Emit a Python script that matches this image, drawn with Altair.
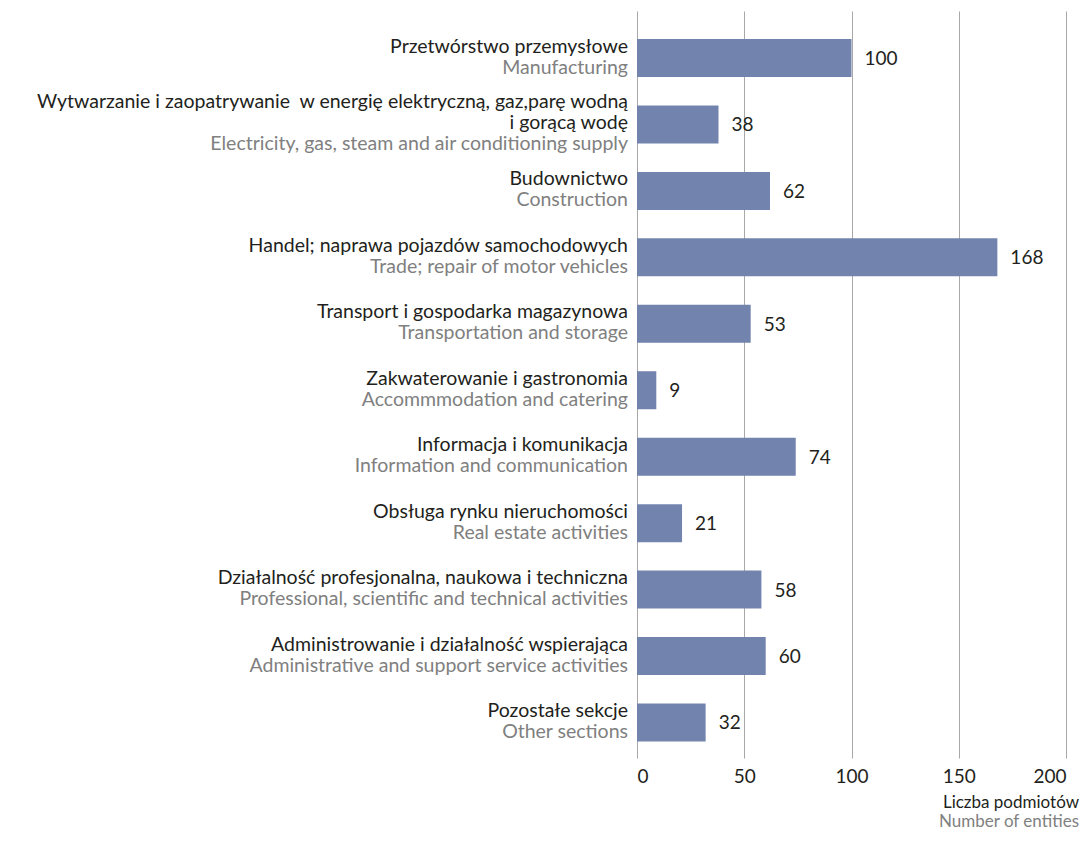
import altair as alt
import pandas as pd

pl_lines = [
    ["Przetwórstwo przemysłowe"],
    ["Wytwarzanie i zaopatrywanie\u00a0 w energię elektryczną, gaz,parę wodną", "i gorącą wodę"],
    ["Budownictwo"],
    ["Handel; naprawa pojazdów samochodowych"],
    ["Transport i gospodarka magazynowa"],
    ["Zakwaterowanie i gastronomia"],
    ["Informacja i komunikacja"],
    ["Obsługa rynku nieruchomości"],
    ["Działalność profesjonalna, naukowa i techniczna"],
    ["Administrowanie i działalność wspierająca"],
    ["Pozostałe sekcje"],
]
en_labels = [
    "Manufacturing",
    "Electricity, gas, steam and air conditioning supply",
    "Construction",
    "Trade; repair of motor vehicles",
    "Transportation and storage",
    "Accommmodation and catering",
    "Information and communication",
    "Real estate activities",
    "Professional, scientific and technical activities",
    "Administrative and support service activities",
    "Other sections",
]
values = [100, 38, 62, 168, 53, 9, 74, 21, 58, 60, 32]
tick_values = [0, 50, 100, 150, 200]
axis_title_pl = "Liczba podmiotów"
axis_title_en = "Number of entities"

keys = [p[0] for p in pl_lines]
bars_df = pd.DataFrame({"key": keys, "value": values})

rows = []
for key, pl, en in zip(keys, pl_lines, en_labels):
    lines = [(t, "pl") for t in pl] + [(en, "en")]
    n = len(lines)
    for k, (t, lang) in enumerate(lines):
        rows.append({"key": key, "text": t, "lang": lang, "pos": 2 * k - (n - 1)})
labels_df = pd.DataFrame(rows)

FONT = "Lato"
BLACK = "#231f20"
GRAY = "#808080"

yenc = alt.Y(
    "key:N",
    sort=keys,
    axis=None,
    scale=alt.Scale(paddingInner=0.428, paddingOuter=0.335, align=0.629),
)

bars = alt.Chart(bars_df).mark_bar(color="#7283ae").encode(
    x=alt.X(
        "value:Q",
        scale=alt.Scale(domain=[0, 200], nice=False),
        axis=alt.Axis(
            values=tick_values,
            grid=True,
            gridColor="#a8a8a8",
            gridWidth=1,
            domain=False,
            ticks=False,
            labelFont=FONT,
            labelFontSize=19,
            labelColor=BLACK,
            labelPadding=9,
            title=None,
        ),
    ),
    y=yenc,
)

value_labels = alt.Chart(bars_df).mark_text(
    align="left", baseline="middle", dx=13, dy=1, font=FONT, fontSize=19, color=BLACK
).encode(x="value:Q", y=yenc, text="value:Q")

label_layers = []
for p in [-2, -1, 0, 1, 2]:
    label_layers.append(
        alt.Chart(labels_df)
        .transform_filter(alt.datum.pos == p)
        .mark_text(
            align="right",
            baseline="alphabetic",
            dx=-9,
            dy=5 + p * 10.5,
            font=FONT,
            fontSize=19.5,
        )
        .encode(
            x=alt.value(0),
            y=yenc,
            text="text:N",
            color=alt.Color(
                "lang:N",
                scale=alt.Scale(domain=["pl", "en"], range=[BLACK, GRAY]),
                legend=None,
            ),
        )
    )

title_pl = alt.Chart(pd.DataFrame({"t": [axis_title_pl]})).mark_text(
    align="right", baseline="alphabetic", font=FONT, fontSize=17, color=BLACK
).encode(x=alt.value(442), y=alt.value(797), text="t:N")

title_en = alt.Chart(pd.DataFrame({"t": [axis_title_en]})).mark_text(
    align="right", baseline="alphabetic", font=FONT, fontSize=17, color=GRAY
).encode(x=alt.value(442), y=alt.value(816), text="t:N")

chart = (
    alt.layer(bars, value_labels, *label_layers, title_pl, title_en)
    .properties(
        width=429,
        height=747,
        autosize=alt.AutoSizeParams(type="none"),
        padding={"left": 629, "top": 3, "right": 15, "bottom": 72},
        background="white",
    )
    .configure_view(stroke=None)
)

chart.save("out.html", embed_options={"renderer": "svg", "actions": False})
